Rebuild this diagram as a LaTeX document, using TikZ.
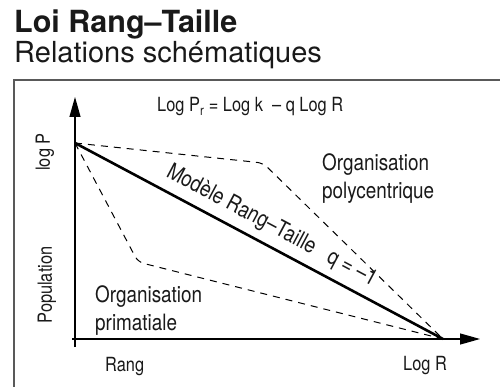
\documentclass[tikz,border=0pt]{standalone}
\usepackage{fontspec}
\setmainfont{TeX Gyre Heros}
\newfontfamily\condfont[FakeStretch=0.84]{TeX Gyre Heros}
\usetikzlibrary{arrows.meta}
\tikzset{
  lbl/.style={font=\condfont\fontsize{19.5}{21}\selectfont, inner sep=0pt, text=black!90},
  biglbl/.style={font=\condfont\fontsize{22.5}{28}\selectfont, inner sep=0pt, align=left, text=black!90},
  axis/.style={line width=1.2pt, -{Triangle[length=20pt,width=11pt]}},
  guide/.style={dash pattern=on 7pt off 6pt, line width=1pt, rounded corners=6pt},
}

\begin{document}
\begin{tikzpicture}[x=1pt, y=-1pt]
         \useasboundingbox (0,0) rectangle (500,387);
         \node [anchor=base west, inner sep=0pt, font=\bfseries\fontsize{30.5}{32}\selectfont, text=black!90] (title) at (14,33) {Loi Rang–Taille};
         \node [anchor=base west, inner sep=0pt, font=\fontsize{29}{31}\selectfont, text=black!90] (subtitle) at (14,63) {Relations schématiques};
         \draw [black!65, line width=1.5pt] (14,388) -- (14,80) -- (501,80);
         \coordinate (ybot) at (75,347);
         \coordinate (ytip) at (75,97);
         \coordinate (xleft) at (72,339);
         \coordinate (xtip) at (480,339);
         \coordinate (top) at (75,143);
         \coordinate (end) at (443,339);
         \coordinate (bendhi) at (263,163);
         \coordinate (bendlo) at (138,262);
         \draw [axis] (ybot) -- (ytip);
         \draw [axis] (xleft) -- (xtip);
         \draw [guide] (top) -- (bendhi) -- (end);
         \draw [guide] (top) -- (bendlo) -- (end);
         \draw [line width=2.6pt] (top) -- node [biglbl, sloped, above=7pt, pos=0.51] (model) {Modèle Rang–Taille \ \ q = –1} (end);
         \node [lbl, anchor=base west] (law) at (157,112) {Log P\textsubscript{r} = Log k \ – q Log R};
         \node [lbl, rotate=90] (logp) at (45,152) {log P};
         \node [lbl, rotate=90] (pop) at (47,285) {Population};
         \node [lbl, anchor=base west] (rang) at (105,371) {Rang};
         \node [lbl, anchor=base west] (logr) at (403,370) {Log R};
         \node [biglbl, anchor=base west] (poly) at (322,199) {Organisation\\polycentrique};
         \node [biglbl, anchor=base west] (prim) at (95,330) {Organisation\\primatiale};
\end{tikzpicture}
\end{document}
